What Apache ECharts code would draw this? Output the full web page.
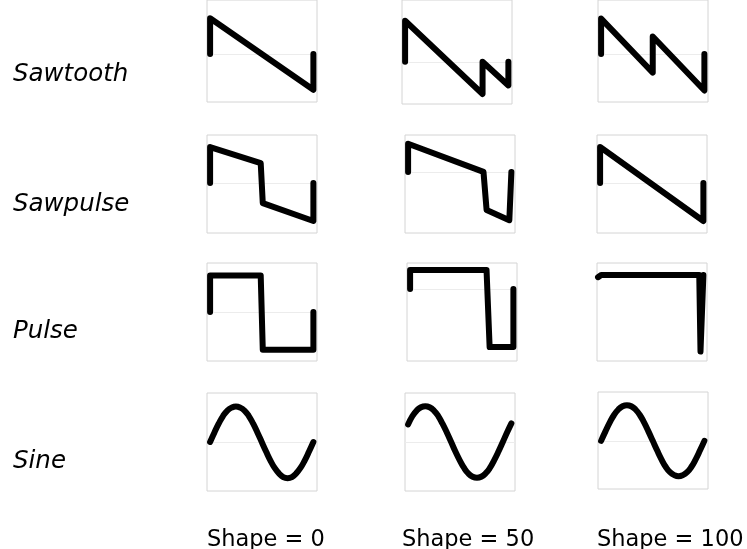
<!DOCTYPE html>
<html>
<head>
<meta charset="utf-8">
<script src="https://cdn.jsdelivr.net/npm/echarts@6/dist/echarts.min.js"></script>
<style>
  html, body { margin: 0; padding: 0; background: #ffffff; }
  #chart { width: 747px; height: 549px; }
</style>
</head>
<body>
<div id="chart"></div>
<script>
const rowLabels = ["Sawtooth", "Sawpulse", "Pulse", "Sine"];
const shapeLabels = ["Shape = 0", "Shape = 50", "Shape = 100"];

// waveforms as [x, y] points, one period (x 0..1)
const sawtooth0 = [[0, 0], [0, 1], [1, -1], [1, 0]];
const sawtooth50 = [[0, 0], [0, 1.15], [0.75, -0.9], [0.75, 0], [1, -0.66], [1, 0]];
const sawtooth100 = [[0, 0], [0, 0.99], [0.5, -0.52], [0.5, 0.49], [1, -1.02], [1, 0]];

const sawpulse0 = [[0, 0], [0, 0.99], [0.49, 0.55], [0.51, -0.55], [1, -1.04], [1, 0]];
const sawpulse50 = [[0, 0], [0, 0.77], [0.73, 0], [0.76, -1.04], [0.98, -1.32], [1, 0]];
const sawpulse100 = [[0, 0], [0, 0.99], [1, -1.04], [1, 0]];

const pulse0 = [[0, 0], [0, 1], [0.49, 1], [0.51, -1.03], [1, -1.03], [1, 0]];
const pulse50 = [[0, 0], [0, 0.52], [0.74, 0.52], [0.77, -1.59], [1, -1.59], [1, 0]];
const pulse100 = [[-0.02, -0.06], [0.01, 0], [0.96, 0], [0.972, -2.1], [0.988, -2.1], [1, 0]];

const sineX = [0, 0.042, 0.083, 0.125, 0.167, 0.208, 0.25, 0.292, 0.333, 0.375, 0.417, 0.458,
  0.5, 0.542, 0.583, 0.625, 0.667, 0.708, 0.75, 0.792, 0.833, 0.875, 0.917, 0.958, 1];
const sine0 = [0, 0.26, 0.5, 0.71, 0.86, 0.94, 0.97, 0.94, 0.86, 0.71, 0.5, 0.26,
  0, -0.26, -0.5, -0.71, -0.86, -0.96, -0.99, -0.96, -0.86, -0.71, -0.5, -0.26, 0];
const sine50 = [0.48, 0.71, 0.86, 0.95, 0.98, 0.95, 0.86, 0.71, 0.5, 0.26, 0, -0.26,
  -0.5, -0.71, -0.86, -0.95, -0.98, -0.95, -0.86, -0.71, -0.5, -0.26, 0, 0.26, 0.51];
const sine100 = [0, 0.26, 0.5, 0.71, 0.86, 0.95, 0.98, 0.95, 0.86, 0.71, 0.5, 0.26,
  0, -0.26, -0.5, -0.71, -0.86, -0.94, -0.97, -0.94, -0.86, -0.71, -0.5, -0.26, 0];

const pairs = (xs, ys) => xs.map((x, i) => [x, ys[i]]);

const waves = [
  [sawtooth0, sawtooth50, sawtooth100],
  [sawpulse0, sawpulse50, sawpulse100],
  [pulse0, pulse50, pulse100],
  [pairs(sineX, sine0), pairs(sineX, sine50), pairs(sineX, sine100)],
];

// panel boxes: left, top, height, y range (top row is cut off by the image edge)
const panels = [
  [{ left: 207, top: -2, height: 104, min: -1.34, max: 1.51 },
   { left: 402, top: -2, height: 106, min: -1.18, max: 1.73 },
   { left: 598, top: -2, height: 104, min: -1.34, max: 1.51 }],
  [{ left: 207, top: 135, height: 98, min: -1.37, max: 1.32 },
   { left: 405, top: 135, height: 98, min: -1.67, max: 1.01 },
   { left: 597, top: 135, height: 98, min: -1.37, max: 1.32 }],
  [{ left: 207, top: 263, height: 98, min: -1.34, max: 1.34 },
   { left: 407, top: 263, height: 98, min: -1.97, max: 0.71 },
   { left: 597, top: 263, height: 98, min: -2.36, max: 0.33 }],
  [{ left: 207, top: 393, height: 98, min: -1.34, max: 1.34 },
   { left: 405, top: 393, height: 98, min: -1.34, max: 1.34 },
   { left: 598, top: 392, height: 97, min: -1.32, max: 1.34 }],
];

const grid = [], xAxis = [], yAxis = [], series = [];
panels.forEach((row, r) => {
  row.forEach((p, c) => {
    const i = grid.length;
    grid.push({
      left: p.left, top: p.top, width: 110, height: p.height,
      show: true, borderColor: "#d4d4d4", borderWidth: 1, backgroundColor: "transparent",
    });
    xAxis.push({ gridIndex: i, type: "value", min: -0.03, max: 1.035, show: false });
    yAxis.push({ gridIndex: i, type: "value", min: p.min, max: p.max, show: false });
    // faint zero line underneath the wave
    series.push({
      type: "line", xAxisIndex: i, yAxisIndex: i, data: [], z: 1, silent: true,
      markLine: {
        z: 1, symbol: "none", silent: true, animation: false, label: { show: false },
        lineStyle: { color: "#ececec", width: 1, type: "solid" },
        data: [{ yAxis: 0 }],
      },
    });
    series.push({
      type: "line", xAxisIndex: i, yAxisIndex: i, z: 3,
      data: waves[r][c],
      smooth: r === 3,
      showSymbol: false,
      lineStyle: { color: "#000000", width: 6, cap: "round", join: "round" },
    });
  });
});

const rowLabelY = [72, 202, 329, 459];
const shapeLabelX = [207, 402, 597];
const graphic = [];
rowLabels.forEach((text, r) => {
  graphic.push({
    type: "text", left: 13, top: rowLabelY[r] - 10, z: 10,
    style: { text, fill: "#000000", font: "italic 24.5px 'DejaVu Sans'" },
  });
});
shapeLabels.forEach((text, c) => {
  graphic.push({
    type: "text", left: shapeLabelX[c], top: 529, z: 10,
    style: { text, fill: "#000000", font: "22.5px 'DejaVu Sans'" },
  });
});

const chart = echarts.init(document.getElementById("chart"), null, { renderer: "canvas" });
chart.setOption({
  animation: false,
  backgroundColor: "#ffffff",
  grid, xAxis, yAxis, series, graphic,
});
</script>
</body>
</html>
